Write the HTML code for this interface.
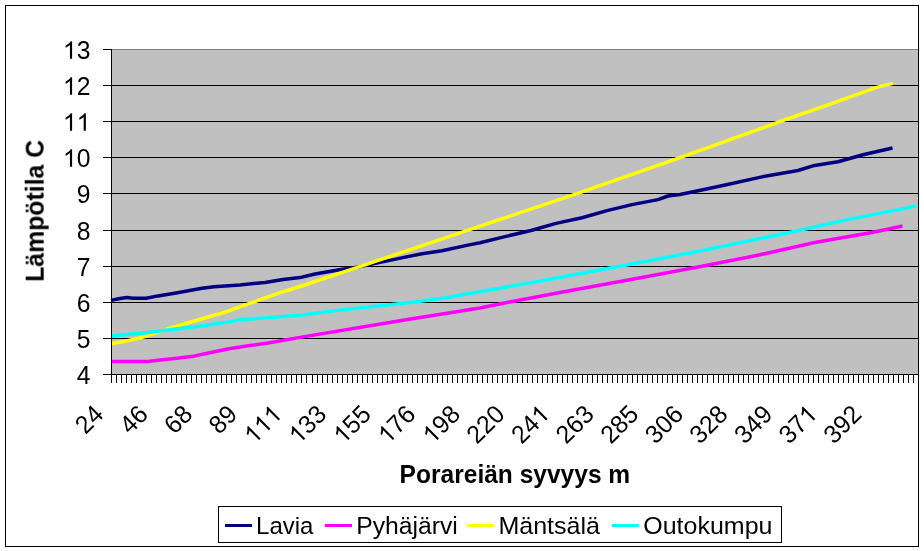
<!DOCTYPE html>
<html><head><meta charset="utf-8"><title>chart</title>
<style>
html,body{margin:0;padding:0;background:#fff;}
body{width:924px;height:551px;overflow:hidden;}
svg{display:block;transform:translateZ(0);}
text{font-family:"Liberation Sans",sans-serif;fill:#000;}
</style></head><body>
<svg width="924" height="551" viewBox="0 0 924 551">
<rect x="0" y="0" width="924" height="551" fill="#fff"/>
<rect x="112" y="50" width="806" height="324" fill="#c0c0c0"/>
<g shape-rendering="crispEdges" stroke="#000" stroke-width="1">
<line x1="112" y1="49.5" x2="918" y2="49.5" stroke="#808080"/>
<line x1="112" y1="85.5" x2="918" y2="85.5"/>
<line x1="112" y1="121.5" x2="918" y2="121.5"/>
<line x1="112" y1="157.5" x2="918" y2="157.5"/>
<line x1="112" y1="193.5" x2="918" y2="193.5"/>
<line x1="112" y1="230.5" x2="918" y2="230.5"/>
<line x1="112" y1="266.5" x2="918" y2="266.5"/>
<line x1="112" y1="302.5" x2="918" y2="302.5"/>
<line x1="112" y1="338.5" x2="918" y2="338.5"/>
</g>
<polyline fill="none" stroke="#000080" stroke-width="3.5" stroke-linejoin="round" stroke-linecap="butt" points="111,300.4 120,298.5 127,297.6 133,298.2 146,298.2 158,295.9 176,292.9 202,288.3 214,286.8 240,285.0 265,282.4 283,279.4 300,277.6 315,274.0 341,269.5 359,266.9 379,262.6 404,257.4 422,253.7 442,250.7 468,245.1 480,242.7 505,236.6 531,230.5 556,223.4 582,217.8 607,210.6 632,204.6 658,199.6 668,196 680,194.5 704,189.5 724,185.3 762,176.9 798,170.5 813,165.8 838,161.7 864,154.5 892.5,148.0"/>
<polyline fill="none" stroke="#ff00ff" stroke-width="3.5" stroke-linejoin="round" stroke-linecap="butt" points="111,361.4 148,361.4 160,360.0 177,358.2 195,355.9 212,352.3 229,348.8 246.5,346.0 268,343.0 300,337.4 409,319.3 480,308.0 508,302.2 564,291.8 620,281.5 662,273.7 702,266.3 760,254.8 816,242.3 872,232.5 902.5,226.0"/>
<polyline fill="none" stroke="#ffff00" stroke-width="3.5" stroke-linejoin="round" stroke-linecap="butt" points="111,343.7 125,341.2 138,338.4 146,336.2 156,332.9 166.4,329.3 176,326.4 202,318.8 224.5,312.4 252.5,302.3 278,293.4 300,286.5 359,266.9 417,247.3 480,226.1 577,193.7 680,157.6 724,141.8 781,121.2 826,105.7 876.5,87.4 893,83.4"/>
<polyline fill="none" stroke="#00ffff" stroke-width="3.5" stroke-linejoin="round" stroke-linecap="butt" points="111,336.1 146,332.8 176,329 202,325.9 224.5,322.6 240,319.8 265,318 300,315.2 341,310.1 404,303.3 442.5,298.2 480,291.8 550,279.2 625,265.3 700,251.0 799,230.5 844,220.4 917,205.9"/>
<g shape-rendering="crispEdges" stroke="#000" stroke-width="1">
<line x1="111.5" y1="49" x2="111.5" y2="383"/>
<line x1="103" y1="374.5" x2="918" y2="374.5"/>
<line x1="103" y1="49.5" x2="112" y2="49.5"/>
<line x1="103" y1="85.5" x2="112" y2="85.5"/>
<line x1="103" y1="121.5" x2="112" y2="121.5"/>
<line x1="103" y1="157.5" x2="112" y2="157.5"/>
<line x1="103" y1="193.5" x2="112" y2="193.5"/>
<line x1="103" y1="230.5" x2="112" y2="230.5"/>
<line x1="103" y1="266.5" x2="112" y2="266.5"/>
<line x1="103" y1="302.5" x2="112" y2="302.5"/>
<line x1="103" y1="338.5" x2="112" y2="338.5"/>
<line x1="116.5" y1="374" x2="116.5" y2="383"/>
<line x1="121.5" y1="374" x2="121.5" y2="383"/>
<line x1="126.5" y1="374" x2="126.5" y2="383"/>
<line x1="131.5" y1="374" x2="131.5" y2="383"/>
<line x1="136.5" y1="374" x2="136.5" y2="383"/>
<line x1="141.5" y1="374" x2="141.5" y2="383"/>
<line x1="146.5" y1="374" x2="146.5" y2="383"/>
<line x1="151.5" y1="374" x2="151.5" y2="383"/>
<line x1="156.5" y1="374" x2="156.5" y2="383"/>
<line x1="161.5" y1="374" x2="161.5" y2="383"/>
<line x1="166.5" y1="374" x2="166.5" y2="383"/>
<line x1="171.5" y1="374" x2="171.5" y2="383"/>
<line x1="176.5" y1="374" x2="176.5" y2="383"/>
<line x1="181.5" y1="374" x2="181.5" y2="383"/>
<line x1="186.5" y1="374" x2="186.5" y2="383"/>
<line x1="191.5" y1="374" x2="191.5" y2="383"/>
<line x1="196.5" y1="374" x2="196.5" y2="383"/>
<line x1="201.5" y1="374" x2="201.5" y2="383"/>
<line x1="206.5" y1="374" x2="206.5" y2="383"/>
<line x1="211.5" y1="374" x2="211.5" y2="383"/>
<line x1="216.5" y1="374" x2="216.5" y2="383"/>
<line x1="221.5" y1="374" x2="221.5" y2="383"/>
<line x1="226.5" y1="374" x2="226.5" y2="383"/>
<line x1="231.5" y1="374" x2="231.5" y2="383"/>
<line x1="236.5" y1="374" x2="236.5" y2="383"/>
<line x1="241.5" y1="374" x2="241.5" y2="383"/>
<line x1="246.5" y1="374" x2="246.5" y2="383"/>
<line x1="251.5" y1="374" x2="251.5" y2="383"/>
<line x1="256.5" y1="374" x2="256.5" y2="383"/>
<line x1="261.5" y1="374" x2="261.5" y2="383"/>
<line x1="266.5" y1="374" x2="266.5" y2="383"/>
<line x1="271.5" y1="374" x2="271.5" y2="383"/>
<line x1="276.5" y1="374" x2="276.5" y2="383"/>
<line x1="281.5" y1="374" x2="281.5" y2="383"/>
<line x1="286.5" y1="374" x2="286.5" y2="383"/>
<line x1="291.5" y1="374" x2="291.5" y2="383"/>
<line x1="296.5" y1="374" x2="296.5" y2="383"/>
<line x1="301.5" y1="374" x2="301.5" y2="383"/>
<line x1="306.5" y1="374" x2="306.5" y2="383"/>
<line x1="312.5" y1="374" x2="312.5" y2="383"/>
<line x1="317.5" y1="374" x2="317.5" y2="383"/>
<line x1="322.5" y1="374" x2="322.5" y2="383"/>
<line x1="327.5" y1="374" x2="327.5" y2="383"/>
<line x1="332.5" y1="374" x2="332.5" y2="383"/>
<line x1="337.5" y1="374" x2="337.5" y2="383"/>
<line x1="342.5" y1="374" x2="342.5" y2="383"/>
<line x1="347.5" y1="374" x2="347.5" y2="383"/>
<line x1="352.5" y1="374" x2="352.5" y2="383"/>
<line x1="357.5" y1="374" x2="357.5" y2="383"/>
<line x1="362.5" y1="374" x2="362.5" y2="383"/>
<line x1="367.5" y1="374" x2="367.5" y2="383"/>
<line x1="372.5" y1="374" x2="372.5" y2="383"/>
<line x1="377.5" y1="374" x2="377.5" y2="383"/>
<line x1="382.5" y1="374" x2="382.5" y2="383"/>
<line x1="387.5" y1="374" x2="387.5" y2="383"/>
<line x1="392.5" y1="374" x2="392.5" y2="383"/>
<line x1="397.5" y1="374" x2="397.5" y2="383"/>
<line x1="402.5" y1="374" x2="402.5" y2="383"/>
<line x1="407.5" y1="374" x2="407.5" y2="383"/>
<line x1="412.5" y1="374" x2="412.5" y2="383"/>
<line x1="417.5" y1="374" x2="417.5" y2="383"/>
<line x1="422.5" y1="374" x2="422.5" y2="383"/>
<line x1="427.5" y1="374" x2="427.5" y2="383"/>
<line x1="432.5" y1="374" x2="432.5" y2="383"/>
<line x1="437.5" y1="374" x2="437.5" y2="383"/>
<line x1="442.5" y1="374" x2="442.5" y2="383"/>
<line x1="447.5" y1="374" x2="447.5" y2="383"/>
<line x1="452.5" y1="374" x2="452.5" y2="383"/>
<line x1="457.5" y1="374" x2="457.5" y2="383"/>
<line x1="462.5" y1="374" x2="462.5" y2="383"/>
<line x1="467.5" y1="374" x2="467.5" y2="383"/>
<line x1="472.5" y1="374" x2="472.5" y2="383"/>
<line x1="477.5" y1="374" x2="477.5" y2="383"/>
<line x1="482.5" y1="374" x2="482.5" y2="383"/>
<line x1="487.5" y1="374" x2="487.5" y2="383"/>
<line x1="492.5" y1="374" x2="492.5" y2="383"/>
<line x1="497.5" y1="374" x2="497.5" y2="383"/>
<line x1="502.5" y1="374" x2="502.5" y2="383"/>
<line x1="507.5" y1="374" x2="507.5" y2="383"/>
<line x1="512.5" y1="374" x2="512.5" y2="383"/>
<line x1="517.5" y1="374" x2="517.5" y2="383"/>
<line x1="522.5" y1="374" x2="522.5" y2="383"/>
<line x1="527.5" y1="374" x2="527.5" y2="383"/>
<line x1="532.5" y1="374" x2="532.5" y2="383"/>
<line x1="537.5" y1="374" x2="537.5" y2="383"/>
<line x1="542.5" y1="374" x2="542.5" y2="383"/>
<line x1="547.5" y1="374" x2="547.5" y2="383"/>
<line x1="552.5" y1="374" x2="552.5" y2="383"/>
<line x1="557.5" y1="374" x2="557.5" y2="383"/>
<line x1="562.5" y1="374" x2="562.5" y2="383"/>
<line x1="567.5" y1="374" x2="567.5" y2="383"/>
<line x1="572.5" y1="374" x2="572.5" y2="383"/>
<line x1="577.5" y1="374" x2="577.5" y2="383"/>
<line x1="582.5" y1="374" x2="582.5" y2="383"/>
<line x1="587.5" y1="374" x2="587.5" y2="383"/>
<line x1="592.5" y1="374" x2="592.5" y2="383"/>
<line x1="597.5" y1="374" x2="597.5" y2="383"/>
<line x1="602.5" y1="374" x2="602.5" y2="383"/>
<line x1="607.5" y1="374" x2="607.5" y2="383"/>
<line x1="612.5" y1="374" x2="612.5" y2="383"/>
<line x1="617.5" y1="374" x2="617.5" y2="383"/>
<line x1="622.5" y1="374" x2="622.5" y2="383"/>
<line x1="627.5" y1="374" x2="627.5" y2="383"/>
<line x1="632.5" y1="374" x2="632.5" y2="383"/>
<line x1="637.5" y1="374" x2="637.5" y2="383"/>
<line x1="642.5" y1="374" x2="642.5" y2="383"/>
<line x1="647.5" y1="374" x2="647.5" y2="383"/>
<line x1="652.5" y1="374" x2="652.5" y2="383"/>
<line x1="657.5" y1="374" x2="657.5" y2="383"/>
<line x1="662.5" y1="374" x2="662.5" y2="383"/>
<line x1="667.5" y1="374" x2="667.5" y2="383"/>
<line x1="672.5" y1="374" x2="672.5" y2="383"/>
<line x1="677.5" y1="374" x2="677.5" y2="383"/>
<line x1="682.5" y1="374" x2="682.5" y2="383"/>
<line x1="687.5" y1="374" x2="687.5" y2="383"/>
<line x1="692.5" y1="374" x2="692.5" y2="383"/>
<line x1="697.5" y1="374" x2="697.5" y2="383"/>
<line x1="702.5" y1="374" x2="702.5" y2="383"/>
<line x1="707.5" y1="374" x2="707.5" y2="383"/>
<line x1="713.5" y1="374" x2="713.5" y2="383"/>
<line x1="718.5" y1="374" x2="718.5" y2="383"/>
<line x1="723.5" y1="374" x2="723.5" y2="383"/>
<line x1="728.5" y1="374" x2="728.5" y2="383"/>
<line x1="733.5" y1="374" x2="733.5" y2="383"/>
<line x1="738.5" y1="374" x2="738.5" y2="383"/>
<line x1="743.5" y1="374" x2="743.5" y2="383"/>
<line x1="748.5" y1="374" x2="748.5" y2="383"/>
<line x1="753.5" y1="374" x2="753.5" y2="383"/>
<line x1="758.5" y1="374" x2="758.5" y2="383"/>
<line x1="763.5" y1="374" x2="763.5" y2="383"/>
<line x1="768.5" y1="374" x2="768.5" y2="383"/>
<line x1="773.5" y1="374" x2="773.5" y2="383"/>
<line x1="778.5" y1="374" x2="778.5" y2="383"/>
<line x1="783.5" y1="374" x2="783.5" y2="383"/>
<line x1="788.5" y1="374" x2="788.5" y2="383"/>
<line x1="793.5" y1="374" x2="793.5" y2="383"/>
<line x1="798.5" y1="374" x2="798.5" y2="383"/>
<line x1="803.5" y1="374" x2="803.5" y2="383"/>
<line x1="808.5" y1="374" x2="808.5" y2="383"/>
<line x1="813.5" y1="374" x2="813.5" y2="383"/>
<line x1="818.5" y1="374" x2="818.5" y2="383"/>
<line x1="823.5" y1="374" x2="823.5" y2="383"/>
<line x1="828.5" y1="374" x2="828.5" y2="383"/>
<line x1="833.5" y1="374" x2="833.5" y2="383"/>
<line x1="838.5" y1="374" x2="838.5" y2="383"/>
<line x1="843.5" y1="374" x2="843.5" y2="383"/>
<line x1="848.5" y1="374" x2="848.5" y2="383"/>
<line x1="853.5" y1="374" x2="853.5" y2="383"/>
<line x1="858.5" y1="374" x2="858.5" y2="383"/>
<line x1="863.5" y1="374" x2="863.5" y2="383"/>
<line x1="868.5" y1="374" x2="868.5" y2="383"/>
<line x1="873.5" y1="374" x2="873.5" y2="383"/>
<line x1="878.5" y1="374" x2="878.5" y2="383"/>
<line x1="883.5" y1="374" x2="883.5" y2="383"/>
<line x1="888.5" y1="374" x2="888.5" y2="383"/>
<line x1="893.5" y1="374" x2="893.5" y2="383"/>
<line x1="898.5" y1="374" x2="898.5" y2="383"/>
<line x1="903.5" y1="374" x2="903.5" y2="383"/>
<line x1="908.5" y1="374" x2="908.5" y2="383"/>
<line x1="913.5" y1="374" x2="913.5" y2="383"/>
<rect x="5.5" y="5.5" width="913" height="541" fill="none"/>
<rect x="218.5" y="506.5" width="563" height="36" fill="#fff"/>
</g>
<g opacity="0.999">
<g transform="translate(90.4,58.8) scale(1.03,1.06)"><path transform="translate(-26.70,0) scale(0.01171875,-0.01125)" d="M763 0H583V1147Q518 1085 412.5 1023T223 930V1104Q373 1174.5 485.5 1275T645 1470H763Z"/><text x="-13.35" y="0" font-size="24">3</text></g>
<g transform="translate(90.4,94.8) scale(1.03,1.06)"><path transform="translate(-26.70,0) scale(0.01171875,-0.01125)" d="M763 0H583V1147Q518 1085 412.5 1023T223 930V1104Q373 1174.5 485.5 1275T645 1470H763Z"/><text x="-13.35" y="0" font-size="24">2</text></g>
<g transform="translate(90.4,130.8) scale(1.03,1.06)"><path transform="translate(-26.70,0) scale(0.01171875,-0.01125)" d="M763 0H583V1147Q518 1085 412.5 1023T223 930V1104Q373 1174.5 485.5 1275T645 1470H763Z"/><path transform="translate(-13.35,0) scale(0.01171875,-0.01125)" d="M763 0H583V1147Q518 1085 412.5 1023T223 930V1104Q373 1174.5 485.5 1275T645 1470H763Z"/></g>
<g transform="translate(90.4,166.8) scale(1.03,1.06)"><path transform="translate(-26.70,0) scale(0.01171875,-0.01125)" d="M763 0H583V1147Q518 1085 412.5 1023T223 930V1104Q373 1174.5 485.5 1275T645 1470H763Z"/><text x="-13.35" y="0" font-size="24">0</text></g>
<g transform="translate(90.4,202.8) scale(1.03,1.06)"><text x="-13.35" y="0" font-size="24">9</text></g>
<g transform="translate(90.4,239.8) scale(1.03,1.06)"><text x="-13.35" y="0" font-size="24">8</text></g>
<g transform="translate(90.4,275.8) scale(1.03,1.06)"><text x="-13.35" y="0" font-size="24">7</text></g>
<g transform="translate(90.4,311.8) scale(1.03,1.06)"><text x="-13.35" y="0" font-size="24">6</text></g>
<g transform="translate(90.4,347.8) scale(1.03,1.06)"><text x="-13.35" y="0" font-size="24">5</text></g>
<g transform="translate(90.4,383.8) scale(1.03,1.06)"><text x="-13.35" y="0" font-size="24">4</text></g>
<g transform="translate(92.1,403) rotate(-45) scale(1.03,1.06) translate(0,17)"><text x="-26.70" y="0" font-size="24">2</text><text x="-13.35" y="0" font-size="24">4</text></g>
<g transform="translate(136.7,403) rotate(-45) scale(1.03,1.06) translate(0,17)"><text x="-26.70" y="0" font-size="24">4</text><text x="-13.35" y="0" font-size="24">6</text></g>
<g transform="translate(181.3,403) rotate(-45) scale(1.03,1.06) translate(0,17)"><text x="-26.70" y="0" font-size="24">6</text><text x="-13.35" y="0" font-size="24">8</text></g>
<g transform="translate(225.9,403) rotate(-45) scale(1.03,1.06) translate(0,17)"><text x="-26.70" y="0" font-size="24">8</text><text x="-13.35" y="0" font-size="24">9</text></g>
<g transform="translate(270.5,403) rotate(-45) scale(1.03,1.06) translate(0,17)"><path transform="translate(-40.04,0) scale(0.01171875,-0.01125)" d="M763 0H583V1147Q518 1085 412.5 1023T223 930V1104Q373 1174.5 485.5 1275T645 1470H763Z"/><path transform="translate(-26.70,0) scale(0.01171875,-0.01125)" d="M763 0H583V1147Q518 1085 412.5 1023T223 930V1104Q373 1174.5 485.5 1275T645 1470H763Z"/><path transform="translate(-13.35,0) scale(0.01171875,-0.01125)" d="M763 0H583V1147Q518 1085 412.5 1023T223 930V1104Q373 1174.5 485.5 1275T645 1470H763Z"/></g>
<g transform="translate(315.1,403) rotate(-45) scale(1.03,1.06) translate(0,17)"><path transform="translate(-40.04,0) scale(0.01171875,-0.01125)" d="M763 0H583V1147Q518 1085 412.5 1023T223 930V1104Q373 1174.5 485.5 1275T645 1470H763Z"/><text x="-26.70" y="0" font-size="24">3</text><text x="-13.35" y="0" font-size="24">3</text></g>
<g transform="translate(359.7,403) rotate(-45) scale(1.03,1.06) translate(0,17)"><path transform="translate(-40.04,0) scale(0.01171875,-0.01125)" d="M763 0H583V1147Q518 1085 412.5 1023T223 930V1104Q373 1174.5 485.5 1275T645 1470H763Z"/><text x="-26.70" y="0" font-size="24">5</text><text x="-13.35" y="0" font-size="24">5</text></g>
<g transform="translate(404.3,403) rotate(-45) scale(1.03,1.06) translate(0,17)"><path transform="translate(-40.04,0) scale(0.01171875,-0.01125)" d="M763 0H583V1147Q518 1085 412.5 1023T223 930V1104Q373 1174.5 485.5 1275T645 1470H763Z"/><text x="-26.70" y="0" font-size="24">7</text><text x="-13.35" y="0" font-size="24">6</text></g>
<g transform="translate(448.9,403) rotate(-45) scale(1.03,1.06) translate(0,17)"><path transform="translate(-40.04,0) scale(0.01171875,-0.01125)" d="M763 0H583V1147Q518 1085 412.5 1023T223 930V1104Q373 1174.5 485.5 1275T645 1470H763Z"/><text x="-26.70" y="0" font-size="24">9</text><text x="-13.35" y="0" font-size="24">8</text></g>
<g transform="translate(493.5,403) rotate(-45) scale(1.03,1.06) translate(0,17)"><text x="-40.04" y="0" font-size="24">2</text><text x="-26.70" y="0" font-size="24">2</text><text x="-13.35" y="0" font-size="24">0</text></g>
<g transform="translate(538.1,403) rotate(-45) scale(1.03,1.06) translate(0,17)"><text x="-40.04" y="0" font-size="24">2</text><text x="-26.70" y="0" font-size="24">4</text><path transform="translate(-13.35,0) scale(0.01171875,-0.01125)" d="M763 0H583V1147Q518 1085 412.5 1023T223 930V1104Q373 1174.5 485.5 1275T645 1470H763Z"/></g>
<g transform="translate(582.7,403) rotate(-45) scale(1.03,1.06) translate(0,17)"><text x="-40.04" y="0" font-size="24">2</text><text x="-26.70" y="0" font-size="24">6</text><text x="-13.35" y="0" font-size="24">3</text></g>
<g transform="translate(627.3,403) rotate(-45) scale(1.03,1.06) translate(0,17)"><text x="-40.04" y="0" font-size="24">2</text><text x="-26.70" y="0" font-size="24">8</text><text x="-13.35" y="0" font-size="24">5</text></g>
<g transform="translate(671.9,403) rotate(-45) scale(1.03,1.06) translate(0,17)"><text x="-40.04" y="0" font-size="24">3</text><text x="-26.70" y="0" font-size="24">0</text><text x="-13.35" y="0" font-size="24">6</text></g>
<g transform="translate(716.5,403) rotate(-45) scale(1.03,1.06) translate(0,17)"><text x="-40.04" y="0" font-size="24">3</text><text x="-26.70" y="0" font-size="24">2</text><text x="-13.35" y="0" font-size="24">8</text></g>
<g transform="translate(761.1,403) rotate(-45) scale(1.03,1.06) translate(0,17)"><text x="-40.04" y="0" font-size="24">3</text><text x="-26.70" y="0" font-size="24">4</text><text x="-13.35" y="0" font-size="24">9</text></g>
<g transform="translate(805.7,403) rotate(-45) scale(1.03,1.06) translate(0,17)"><text x="-40.04" y="0" font-size="24">3</text><text x="-26.70" y="0" font-size="24">7</text><path transform="translate(-13.35,0) scale(0.01171875,-0.01125)" d="M763 0H583V1147Q518 1085 412.5 1023T223 930V1104Q373 1174.5 485.5 1275T645 1470H763Z"/></g>
<g transform="translate(850.3,403) rotate(-45) scale(1.03,1.06) translate(0,17)"><text x="-40.04" y="0" font-size="24">3</text><text x="-26.70" y="0" font-size="24">9</text><text x="-13.35" y="0" font-size="24">2</text></g>
<text transform="translate(514.9,482.9) scale(1.023,1.08)" font-size="24" font-weight="bold" text-anchor="middle">Porareiän syvyys m</text>
<text transform="translate(43.6,210.9) rotate(-90) scale(1.034,1.04)" font-size="24" font-weight="bold" text-anchor="middle">Lämpötila C</text>
<line x1="225" y1="525.5" x2="251.5" y2="525.5" stroke="#000080" stroke-width="3" shape-rendering="crispEdges"/>
<text transform="translate(256.1,534.2) scale(1.0,1.03)" font-size="24">Lavia</text>
<line x1="325" y1="525.5" x2="351.5" y2="525.5" stroke="#ff00ff" stroke-width="3" shape-rendering="crispEdges"/>
<text transform="translate(356.2,534.2) scale(1.03,1.03)" font-size="24">Pyhäjärvi</text>
<line x1="467" y1="525.5" x2="493.5" y2="525.5" stroke="#ffff00" stroke-width="3" shape-rendering="crispEdges"/>
<text transform="translate(498.4,534.2) scale(1.044,1.03)" font-size="24">Mäntsälä</text>
<line x1="612" y1="525.5" x2="638.5" y2="525.5" stroke="#00ffff" stroke-width="3" shape-rendering="crispEdges"/>
<text transform="translate(643.3,534.2) scale(1.041,1.03)" font-size="24">Outokumpu</text>
</g>
</svg></body></html>
